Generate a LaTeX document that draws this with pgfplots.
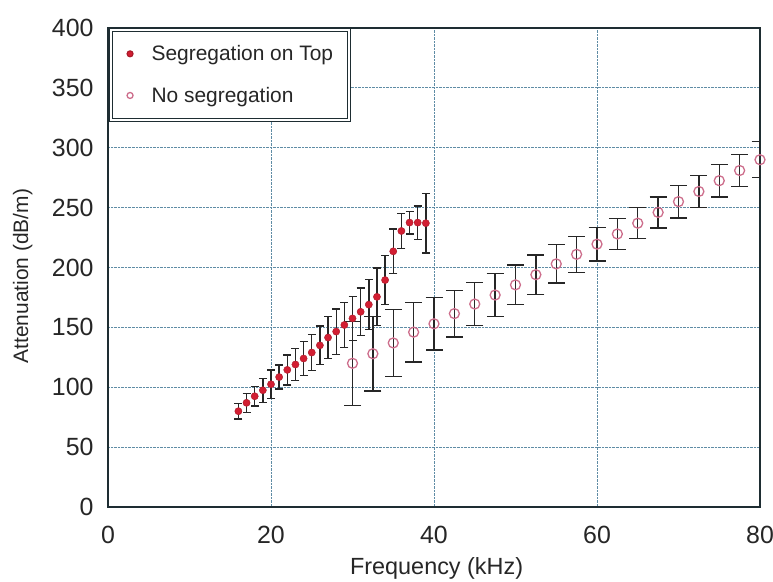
\documentclass[border=0pt]{standalone}
\usepackage{pgfplots}
\pgfplotsset{compat=1.18}
\usepackage{fontspec}
\setmainfont{Liberation Sans}
\definecolor{segred}{RGB}{210,30,50}
\definecolor{nosegpink}{RGB}{205,110,140}
\definecolor{gridblue}{RGB}{95,140,165}
\definecolor{axisdark}{RGB}{30,45,50}

\pgfplotstableread{
x y e
16 80 6.5
17 87 8
18 92.5 8
19 97.5 10
20 102.5 12
21 108.5 10
22 114.5 12.5
23 119 13.5
24 124 14
25 129 15
26 135 16
27 141.5 17.5
28 146.5 19
29 152 19
30 157.5 18.5
31 163 20
32 169 21
33 175.5 24
34 189.5 20.5
35 213.5 18.5
36 230.5 14.5
37 237.5 9.5
38 237.5 14
39 237 25
}\seg

\pgfplotstableread{
x y e
30 120 35
32.5 128 31
35 137 28
37.5 146 25
40 153 22
42.5 161.5 19.5
45 169.5 18
47.5 177 18
50 185.5 16.5
52.5 194 16.5
55 203 16
57.5 211 15
60 219.5 14
62.5 228 13
65 237 13
67.5 246 13
70 255 13.5
72.5 263.5 13.5
75 272.5 13.5
77.5 281 13.5
80 290 15
}\noseg

\begin{document}
\begin{tikzpicture}
\begin{axis}[
  name=ax,
  scale only axis, width=652bp, height=479bp,
  xmin=0, xmax=80, ymin=0, ymax=400,
  xtick={0,20,...,80}, ytick={0,50,...,400},
  grid=major,
  major grid style={gridblue, densely dotted, line width=0.9bp},
  axis line style={axisdark, line width=1.5bp},
  tick style={draw=none},
  /pgf/number format/assume math mode=true,
  ticklabel style={font=\fontsize{25}{28}\selectfont, text=black!85},
  yticklabel style={xshift=-11bp},
  xticklabel style={yshift=-16bp},
  xlabel={Frequency (kHz)},
  ylabel={Attenuation (dB/m)},
  xlabel style={font=\fontsize{23.5}{26}\selectfont, text=black!85, at={(axis description cs:0.504,-0.128)}, anchor=center},
  ylabel style={font=\fontsize{21}{24}\selectfont, text=black!85, at={(axis description cs:-0.131,0.482)}, anchor=center},
  legend style={at={(axis description cs:0.003,0.998)}, anchor=north west,
    draw=axisdark, line width=1.1bp, double=white, double distance=2bp,
    font=\fontsize{21}{24}\selectfont, text=black!85,
    row sep=21bp, inner xsep=14bp, inner ysep=14bp},
  legend cell align=left,
  legend image code/.code={%
    \path (0bp,0bp) (24bp,0bp);
    \draw[#1, mark size=3bp] plot coordinates {(5bp,0bp)};},
]
\addplot[only marks, mark=*, mark size=3.6bp, color=segred, mark options={fill=segred, draw=segred!80!black},
  error bars/.cd, y dir=both, y explicit,
  error bar style={black!85, line width=1.4bp},
  error mark options={rotate=90, mark size=4bp, line width=1.4bp, black!85}]
  table[x=x, y=y, y error=e] {\seg};
\addlegendentry{Segregation on Top}
\addplot[only marks, mark=o, mark size=5bp, color=nosegpink, mark options={line width=1.3bp},
  error bars/.cd, y dir=both, y explicit,
  error bar style={black!85, line width=1.4bp},
  error mark options={rotate=90, mark size=8.5bp, line width=1.4bp, black!85}]
  table[x=x, y=y, y error=e] {\noseg};
\addlegendentry{No segregation}
\end{axis}
\pgfresetboundingbox
\path[use as bounding box] ([xshift=-108bp,yshift=-75bp]ax.south west) rectangle ([xshift=13bp,yshift=28bp]ax.north east);
\end{tikzpicture}
\end{document}
